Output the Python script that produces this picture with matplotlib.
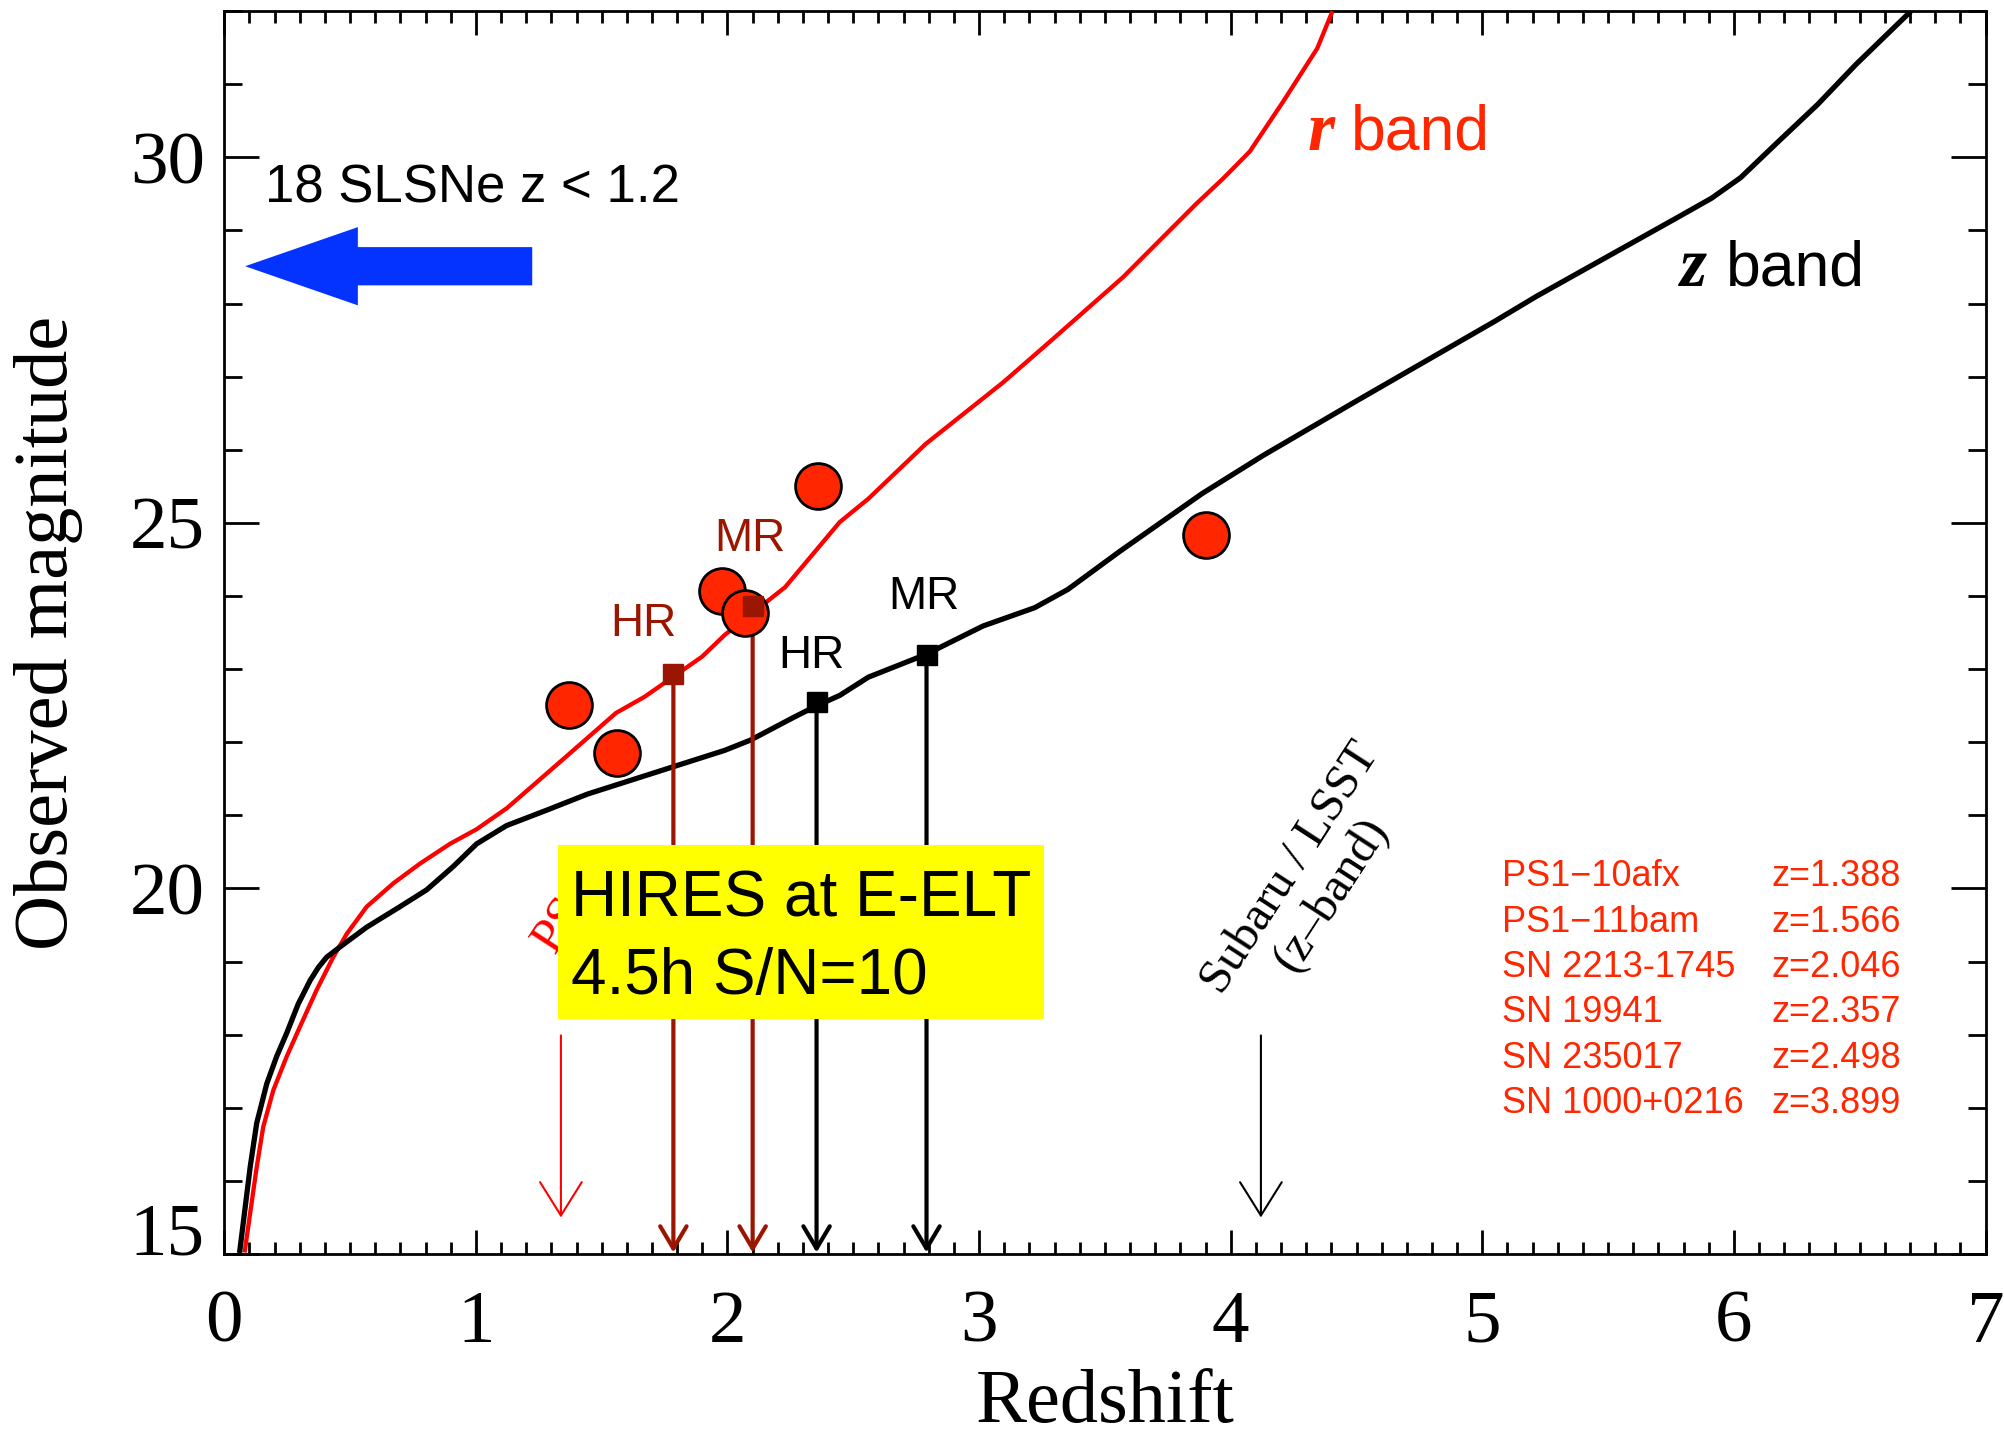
import matplotlib
matplotlib.use('Agg')
import matplotlib.pyplot as plt
from matplotlib.patches import Rectangle, FancyArrow
from matplotlib.ticker import MultipleLocator

# r-band curve (redshift, observed magnitude)
z_r = [0.082, 0.129, 0.155, 0.195, 0.248, 0.301, 0.367, 0.433, 0.487, 0.566,
       0.672, 0.778, 0.897, 1.003, 1.124, 1.351, 1.557, 1.67, 1.899, 1.99,
       2.229, 2.446, 2.56, 2.788, 3.095, 3.282, 3.572, 3.862, 3.97, 4.076,
       4.21, 4.344, 4.401]
m_r = [15.05, 16.19, 16.74, 17.24, 17.70, 18.11, 18.61, 19.06, 19.38, 19.75,
       20.07, 20.34, 20.61, 20.81, 21.1, 21.78, 22.4, 22.62, 23.17, 23.47,
       24.12, 25.01, 25.33, 26.08, 26.92, 27.48, 28.36, 29.36, 29.71, 30.08,
       30.77, 31.49, 31.97]

# z-band curve
z_z = [0.062, 0.103, 0.129, 0.169, 0.208, 0.248, 0.294, 0.341, 0.374, 0.407,
       0.46, 0.566, 0.698, 0.804, 0.91, 1.003, 1.122, 1.281, 1.443, 1.762,
       1.99, 2.092, 2.263, 2.355, 2.446, 2.56, 2.788, 3.016, 3.221, 3.353,
       3.559, 3.886, 4.128, 4.491, 5.051, 5.216, 5.772, 5.911, 6.026, 6.178,
       6.332, 6.485, 6.695]
m_z = [15.05, 16.19, 16.79, 17.33, 17.70, 18.02, 18.42, 18.74, 18.92, 19.06,
       19.2, 19.47, 19.75, 19.98, 20.3, 20.61, 20.86, 21.07, 21.29, 21.64,
       21.89, 22.03, 22.34, 22.5, 22.64, 22.89, 23.2, 23.59, 23.84, 24.09,
       24.61, 25.4, 25.92, 26.65, 27.76, 28.1, 29.17, 29.44, 29.72, 30.22,
       30.72, 31.27, 31.97]

# observed SLSNe
sn_names = ['PS1\u221210afx', 'PS1\u221211bam', 'SN 2213-1745', 'SN 19941',
            'SN 235017', 'SN 1000+0216']
sn_zlabels = ['z=1.388', 'z=1.566', 'z=2.046', 'z=2.357', 'z=2.498', 'z=3.899']
sn_z = [1.37, 1.56, 1.98, 2.07, 2.36, 3.90]
sn_mag = [22.51, 21.85, 24.07, 23.77, 25.50, 24.83]

# HIRES limits (HR, MR)
res_labels = ['HR', 'MR']
r_lim_z = [1.785, 2.100]
r_lim_mag = [22.93, 23.86]
z_lim_z = [2.354, 2.791]
z_lim_mag = [22.55, 23.19]

# survey limits
survey_z = [1.338, 4.12]
survey_top = 17.99
survey_tip = 15.5

RED = '#ff0000'
ORANGE = '#ff2600'
DARK = '#9a1600'
SANS = 'Liberation Sans'
SERIF = 'Liberation Serif'

fig = plt.figure(figsize=(20.04, 14.35), dpi=100)
ax = fig.add_axes([0.1119, 0.1261, 0.8789, 0.8662])
ax.set_xlim(0, 7)
ax.set_ylim(15, 32)

ax.plot(z_r, m_r, color=RED, lw=3.1, zorder=3)
ax.plot(z_z, m_z, color='black', lw=3.8, zorder=3)

ax.plot(sn_z, sn_mag, 'o', ms=33, mfc=ORANGE, mec='black', mew=2, zorder=5)


def down_arrow(x, y0, y1, color, lw, hl, hw, z=4):
    ax.annotate('', xy=(x, y1), xytext=(x, y0),
                arrowprops=dict(arrowstyle=f'->,head_length={hl},head_width={hw}',
                                color=color, lw=lw, shrinkA=0, shrinkB=0,
                                mutation_scale=10), zorder=z)


for zz, mm in zip(r_lim_z, r_lim_mag):
    down_arrow(zz, mm, 15.02, DARK, 3.0, 1.6, 0.95)
for zz, mm in zip(z_lim_z, z_lim_mag):
    down_arrow(zz, mm, 15.02, 'black', 3.0, 1.6, 0.95)
ax.plot(r_lim_z, r_lim_mag, 's', ms=15, color=DARK, zorder=6)
ax.plot(z_lim_z, z_lim_mag, 's', ms=15, color='black', zorder=6)

# HR / MR labels
ax.text(1.664, 23.62, res_labels[0], color=DARK, fontsize=33, family=SANS,
        ha='center', va='center')
ax.text(2.089, 24.78, res_labels[1], color=DARK, fontsize=33, family=SANS,
        ha='center', va='center')
ax.text(2.335, 23.18, res_labels[0], color='black', fontsize=33, family=SANS,
        ha='center', va='center')
ax.text(2.782, 23.98, res_labels[1], color='black', fontsize=33, family=SANS,
        ha='center', va='center')

# survey limit arrows
down_arrow(survey_z[0], survey_top, survey_tip, RED, 1.5, 2.4, 1.5)
down_arrow(survey_z[1], survey_top, survey_tip, 'black', 1.5, 2.4, 1.5)
# survey label mostly hidden behind the HIRES box
ax.text(1.313, 19.09, 'PS1', color=RED, fontsize=36, family=SERIF,
        rotation=57, rotation_mode='anchor', ha='left', va='baseline', zorder=2)
ax.text(4.32, 20.10, 'Subaru / LSST\n(z\u2013band)', color='black', fontsize=35,
        family=SERIF, rotation=57, rotation_mode='anchor', ha='center',
        va='center', multialignment='center', linespacing=1.1)

# yellow HIRES box
ax.add_patch(Rectangle((1.327, 18.21), 1.931, 2.39, facecolor='#ffff00',
                       edgecolor='none', zorder=7))
ax.text(1.377, 19.61, 'HIRES at E-ELT', fontsize=46, family=SANS,
        va='baseline', ha='left', zorder=8)
ax.text(1.377, 18.56, '4.5h S/N=10', fontsize=46, family=SANS,
        va='baseline', ha='left', zorder=8)

# blue arrow for low-z sample
ax.add_patch(FancyArrow(1.224, 28.51, -1.141, 0, width=0.523, head_width=1.07,
                        head_length=0.448, length_includes_head=True,
                        color='#0433ff', lw=0, zorder=4))
ax.text(0.162, 29.385, '18 SLSNe z < 1.2', fontsize=38, family=SANS,
        va='baseline', ha='left')

# band labels
ax.text(4.306, 30.10, 'r', color=ORANGE, fontsize=50, family=SERIF,
        style='italic', weight='bold', va='baseline')
ax.text(4.478, 30.10, 'band', color=ORANGE, fontsize=45, family=SANS,
        va='baseline')
ax.text(5.786, 28.24, 'z', color='black', fontsize=50, family=SERIF,
        style='italic', weight='bold', va='baseline')
ax.text(5.969, 28.24, 'band', color='black', fontsize=45, family=SANS,
        va='baseline')

# legend list
rows = [20.04, 19.41, 18.79, 18.17, 17.55, 16.93]
for name, zl, yy in zip(sn_names, sn_zlabels, rows):
    ax.text(5.079, yy, name, color=ORANGE, fontsize=26, family=SANS, va='baseline')
    ax.text(6.15, yy, zl, color=ORANGE, fontsize=26, family=SANS, va='baseline')

# axes styling
ax.xaxis.set_major_locator(MultipleLocator(1))
ax.xaxis.set_minor_locator(MultipleLocator(0.1))
ax.yaxis.set_major_locator(MultipleLocator(5))
ax.yaxis.set_minor_locator(MultipleLocator(1))
ax.tick_params(axis='x', which='both', direction='in', top=True, bottom=True,
               width=2, labelsize=54, pad=26)
ax.tick_params(axis='x', which='major', length=17)
ax.tick_params(axis='x', which='minor', length=8.5)
ax.tick_params(axis='y', which='both', direction='in', left=True, right=True,
               width=2, labelsize=54, pad=14)
ax.tick_params(axis='y', which='major', length=25)
ax.tick_params(axis='y', which='minor', length=13)
for s in ax.spines.values():
    s.set_linewidth(2)

ax.set_xlabel('Redshift', fontsize=55, family=SERIF)
ax.set_ylabel('Observed magnitude', fontsize=55, family=SERIF)
ax.xaxis.set_label_coords(0.5, -0.12)
ax.xaxis.label.set_va('center')
ax.yaxis.set_label_coords(-0.0998, 0.5)
ax.yaxis.label.set_va('center')

fig.canvas.draw()
for lab in ax.get_xticklabels() + ax.get_yticklabels():
    lab.set_family(SERIF)
for t in ax.yaxis.get_major_ticks():
    if abs(t.get_loc() - 15) < 1e-6:
        t.label1.set_va('baseline')

fig.savefig('out.png', dpi=100)
